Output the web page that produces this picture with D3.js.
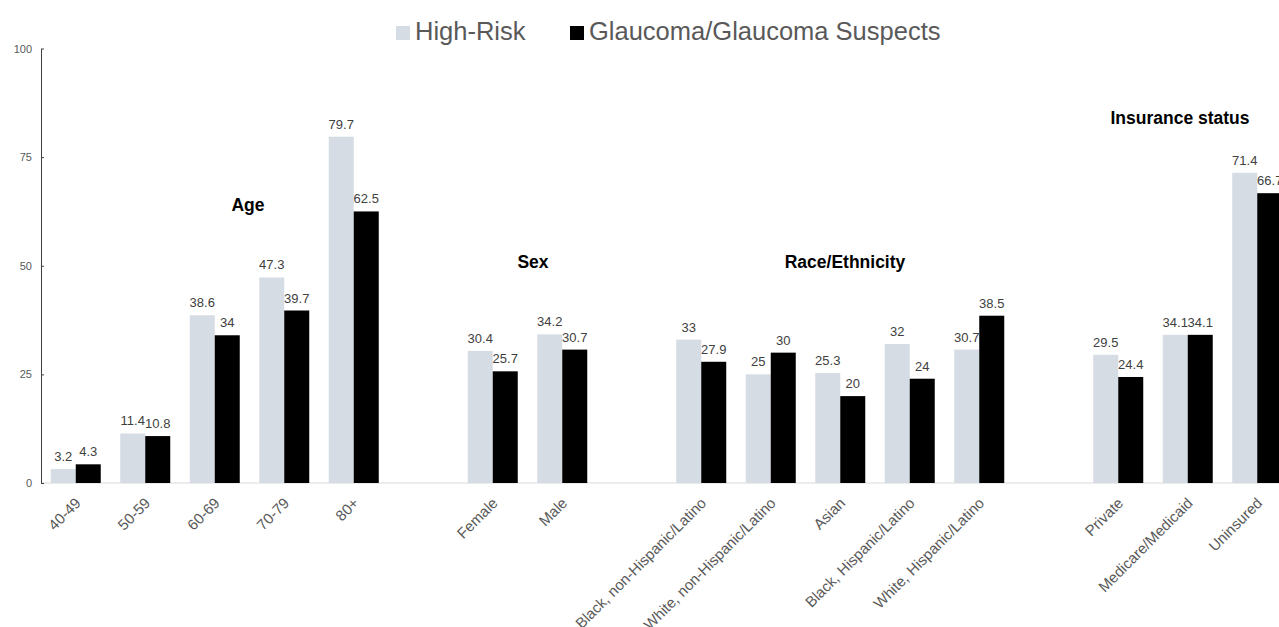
<!DOCTYPE html>
<html>
<head>
<meta charset="utf-8">
<script src="https://cdn.jsdelivr.net/npm/d3@7"></script>
<style>
  body { margin: 0; background: #fff; }
  svg { display: block; font-family: "Liberation Sans", Arial, sans-serif; }
</style>
</head>
<body>
<div id="chart"></div>
<script>
// data
var categories = ["40-49", "50-59", "60-69", "70-79", "80+",
	"Female", "Male",
	"Black, non-Hispanic/Latino", "White, non-Hispanic/Latino", "Asian", "Black, Hispanic/Latino", "White, Hispanic/Latino",
	"Private", "Medicare/Medicaid", "Uninsured"];
var highRisk = [3.2, 11.4, 38.6, 47.3, 79.7, 30.4, 34.2, 33, 25, 25.3, 32, 30.7, 29.5, 34.1, 71.4];
var glaucoma = [4.3, 10.8, 34, 39.7, 62.5, 25.7, 30.7, 27.9, 30, 20, 24, 38.5, 24.4, 34.1, 66.7];
var groupNames = ["Age", "Sex", "Race/Ethnicity", "Insurance status"];
var groupSizes = [5, 2, 5, 3];
var seriesNames = ["High-Risk", "Glaucoma/Glaucoma Suspects"];
var yTicks = [0, 25, 50, 75, 100];

;(function() {

	var width = 1279;
	var height = 627;
	var axisX = 41;
	var colors = ["#d6dce4", "#000000"];

	// slots: categories with an empty slot between groups
	var slots = [];
	var k = 0;
	groupSizes.forEach(function(n, g) {
		for (var i = 0; i < n; i++) slots.push(categories[k++]);
		if (g < groupSizes.length - 1) slots.push("gap" + g);
	});

	var svg = d3.select("#chart").append("svg")
		.attr("width", width)
		.attr("height", height);

	var step = 69.5;
	var x = d3.scaleBand()
		.domain(slots)
		.range([axisX, axisX + slots.length * step])
		.paddingInner(0.2806)
		.paddingOuter(0.1403);

	var xInner = d3.scaleBand()
		.domain([0, 1])
		.range([0, x.bandwidth()]);

	var y = d3.scaleLinear()
		.domain([0, 100])
		.range([483, 48.5]);

	// x baseline
	svg.append("line")
		.attr("x1", axisX).attr("x2", width)
		.attr("y1", y(0)).attr("y2", y(0))
		.attr("stroke", "#d9d9d9")
		.attr("stroke-width", 1);

	// y axis
	var yAxis = svg.append("g")
		.attr("transform", "translate(" + axisX + ",0)")
		.call(d3.axisLeft(y).tickValues(yTicks).tickSizeInner(-3).tickSizeOuter(0).tickPadding(9));
	yAxis.select(".domain").attr("stroke", "#404040");
	yAxis.selectAll(".tick line").attr("stroke", "#404040");
	yAxis.selectAll(".tick text")
		.attr("fill", "#595959")
		.style("font-size", "11px")
		.style("font-family", "'Liberation Sans', Arial, sans-serif");

	var rows = categories.map(function(c, i) { return { cat: c, vals: [highRisk[i], glaucoma[i]] }; });

	var cat = svg.selectAll(".cat")
		.data(rows)
		.enter().append("g")
			.attr("class", "cat")
			.attr("transform", function(d) { return "translate(" + x(d.cat) + ",0)"; });

	var bars = cat.selectAll(".bar")
		.data(function(d) { return d.vals; })
		.enter();

	bars.append("rect")
		.attr("class", "bar")
		.attr("x", function(d, i) { return xInner(i); })
		.attr("y", function(d) { return y(d); })
		.attr("width", xInner.bandwidth())
		.attr("height", function(d) { return y(0) - y(d); })
		.attr("fill", function(d, i) { return colors[i]; });

	bars.append("text")
		.attr("x", function(d, i) { return xInner(i) + xInner.bandwidth() / 2; })
		.attr("y", function(d) { return y(d) - 8; })
		.attr("text-anchor", "middle")
		.attr("fill", "#404040")
		.style("font-size", "13px")
		.text(function(d) { return d; });

	// rotated category labels
	cat.append("text")
		.attr("transform", "translate(" + (x.bandwidth() / 2 + 6) + ",504) rotate(-45)")
		.attr("text-anchor", "end")
		.attr("fill", "#595959")
		.style("font-size", "15px")
		.text(function(d) { return d.cat; });

	// group titles
	var titlePos = [[248, 211], [533, 268], [845, 268], [1180, 124]];
	svg.selectAll(".group-title")
		.data(groupNames)
		.enter().append("text")
			.attr("class", "group-title")
			.attr("x", function(d, i) { return titlePos[i][0]; })
			.attr("y", function(d, i) { return titlePos[i][1]; })
			.attr("text-anchor", "middle")
			.attr("font-weight", "bold")
			.attr("fill", "#000")
			.style("font-size", "17.5px")
			.text(function(d) { return d; });

	// legend
	var legendX = [396, 570];
	var legend = svg.selectAll(".legend")
		.data(seriesNames)
		.enter().append("g")
			.attr("class", "legend")
			.attr("transform", function(d, i) { return "translate(" + legendX[i] + ",0)"; });

	legend.append("rect")
		.attr("x", 0).attr("y", 26)
		.attr("width", 14).attr("height", 14)
		.attr("fill", function(d, i) { return colors[i]; });

	legend.append("text")
		.attr("x", 19).attr("y", 40)
		.attr("fill", "#595959")
		.style("font-size", "25.5px")
		.text(function(d) { return d; });

})();
</script>
</body>
</html>
